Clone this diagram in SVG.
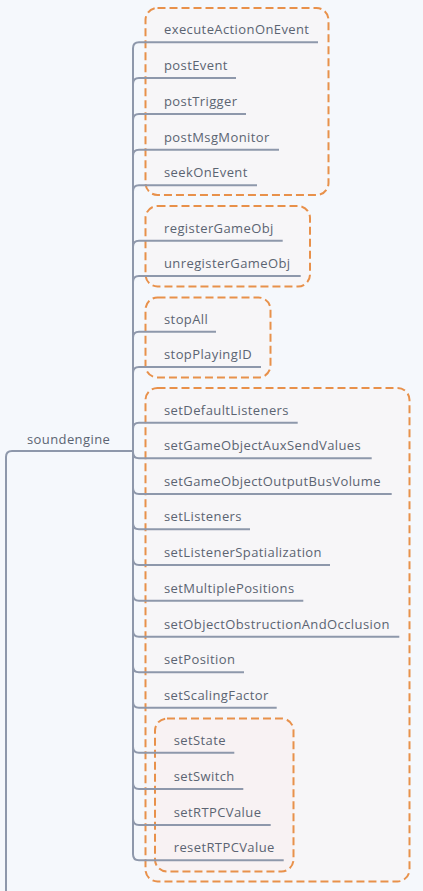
<svg xmlns="http://www.w3.org/2000/svg" width="423" height="891" viewBox="0 0 423 891">
<style>
.bg{fill:#F5F8FC}
.grp{fill:#F7F6F8;stroke:#E8914B;stroke-width:2;stroke-dasharray:8 4}
.grp2{fill:#F8F2F3;stroke:#E8914B;stroke-width:2;stroke-dasharray:8 4}
.c{fill:none;stroke:#8E98AB;stroke-width:2}
.u{stroke:#8E98AB;stroke-width:2}
.t{font-family:"Open Sans","Noto Sans",sans-serif;font-size:13px;letter-spacing:0.4px;fill:#5B6472}
</style>
<rect class="bg" x="0" y="0" width="423" height="891"/>
<g id="groups">
<rect class="grp" x="145.5" y="8" width="183" height="187" rx="12"/>
<rect class="grp" x="145.5" y="206" width="164.5" height="80.5" rx="12"/>
<rect class="grp" x="145.5" y="297.5" width="125" height="80" rx="12"/>
<rect class="grp" x="145.5" y="388" width="264" height="493.5" rx="12"/>
<rect class="grp2" x="155" y="718.5" width="138.5" height="153" rx="12"/>
</g>
<g id="connectors">
<path class="c" d="M6 891 V457 Q6 451 12 451 H120"/>
<path class="u" d="M120 451 H133" stroke-width="3"/>
<path class="c" d="M133 451 V48.3 Q133 42.3 139 42.3 H155"/>
<path class="c" d="M133 451 V84 Q133 78 139 78 H155"/>
<path class="c" d="M133 451 V120 Q133 114 139 114 H155"/>
<path class="c" d="M133 451 V155.7 Q133 149.7 139 149.7 H155"/>
<path class="c" d="M133 451 V191.3 Q133 185.3 139 185.3 H155"/>
<path class="c" d="M133 451 V246.7 Q133 240.7 139 240.7 H155"/>
<path class="c" d="M133 451 V282 Q133 276 139 276 H155"/>
<path class="c" d="M133 451 V337.7 Q133 331.7 139 331.7 H155"/>
<path class="c" d="M133 451 V373 Q133 367 139 367 H155"/>
<path class="c" d="M133 451 V428.7 Q133 422.7 139 422.7 H155"/>
<path class="c" d="M133 451 V452.3 Q133 458.3 139 458.3 H155"/>
<path class="c" d="M133 451 V488 Q133 494 139 494 H155"/>
<path class="c" d="M133 451 V523.3 Q133 529.3 139 529.3 H155"/>
<path class="c" d="M133 451 V559 Q133 565 139 565 H155"/>
<path class="c" d="M133 451 V594.7 Q133 600.7 139 600.7 H155"/>
<path class="c" d="M133 451 V630.7 Q133 636.7 139 636.7 H155"/>
<path class="c" d="M133 451 V666.3 Q133 672.3 139 672.3 H155"/>
<path class="c" d="M133 451 V701.7 Q133 707.7 139 707.7 H155"/>
<path class="c" d="M133 451 V746.7 Q133 752.7 139 752.7 H165"/>
<path class="c" d="M133 451 V783 Q133 789 139 789 H165"/>
<path class="c" d="M133 451 V819 Q133 825 139 825 H165"/>
<path class="c" d="M133 451 V854.3 Q133 860.3 139 860.3 H165"/>
</g>
<g id="soundengine"><text class="t" x="27" y="443.5">soundengine</text></g>
<g id="n1"><text class="t" x="164" y="34.2">executeActionOnEvent</text><line class="u" x1="155" y1="42.3" x2="318" y2="42.3"/></g>
<g id="n2"><text class="t" x="164" y="69.9">postEvent</text><line class="u" x1="155" y1="78" x2="236" y2="78"/></g>
<g id="n3"><text class="t" x="164" y="105.9">postTrigger</text><line class="u" x1="155" y1="114" x2="246" y2="114"/></g>
<g id="n4"><text class="t" x="164" y="141.6">postMsgMonitor</text><line class="u" x1="155" y1="149.7" x2="279" y2="149.7"/></g>
<g id="n5"><text class="t" x="164" y="177.2">seekOnEvent</text><line class="u" x1="155" y1="185.3" x2="257" y2="185.3"/></g>
<g id="n6"><text class="t" x="164" y="232.6">registerGameObj</text><line class="u" x1="155" y1="240.7" x2="282.7" y2="240.7"/></g>
<g id="n7"><text class="t" x="164" y="267.9">unregisterGameObj</text><line class="u" x1="155" y1="276" x2="300.7" y2="276"/></g>
<g id="n8"><text class="t" x="164" y="323.6">stopAll</text><line class="u" x1="155" y1="331.7" x2="216" y2="331.7"/></g>
<g id="n9"><text class="t" x="164" y="358.9">stopPlayingID</text><line class="u" x1="155" y1="367" x2="261" y2="367"/></g>
<g id="n10"><text class="t" x="164" y="414.6">setDefaultListeners</text><line class="u" x1="155" y1="422.7" x2="297.7" y2="422.7"/></g>
<g id="n11"><text class="t" x="164" y="450.2">setGameObjectAuxSendValues</text><line class="u" x1="155" y1="458.3" x2="371.7" y2="458.3"/></g>
<g id="n12"><text class="t" x="164" y="485.9">setGameObjectOutputBusVolume</text><line class="u" x1="155" y1="494" x2="391.7" y2="494"/></g>
<g id="n13"><text class="t" x="164" y="521.2">setListeners</text><line class="u" x1="155" y1="529.3" x2="250" y2="529.3"/></g>
<g id="n14"><text class="t" x="164" y="556.9">setListenerSpatialization</text><line class="u" x1="155" y1="565" x2="330" y2="565"/></g>
<g id="n15"><text class="t" x="164" y="592.6">setMultiplePositions</text><line class="u" x1="155" y1="600.7" x2="303.3" y2="600.7"/></g>
<g id="n16"><text class="t" x="164" y="628.6">setObjectObstructionAndOcclusion</text><line class="u" x1="155" y1="636.7" x2="399.3" y2="636.7"/></g>
<g id="n17"><text class="t" x="164" y="664.2">setPosition</text><line class="u" x1="155" y1="672.3" x2="244" y2="672.3"/></g>
<g id="n18"><text class="t" x="164" y="699.6">setScalingFactor</text><line class="u" x1="155" y1="707.7" x2="276.7" y2="707.7"/></g>
<g id="n19"><text class="t" x="173.7" y="744.6">setState</text><line class="u" x1="165" y1="752.7" x2="234.3" y2="752.7"/></g>
<g id="n20"><text class="t" x="173.7" y="780.9">setSwitch</text><line class="u" x1="165" y1="789" x2="243.3" y2="789"/></g>
<g id="n21"><text class="t" x="173.7" y="816.9">setRTPCValue</text><line class="u" x1="165" y1="825" x2="270.7" y2="825"/></g>
<g id="n22"><text class="t" x="173.7" y="852.2">resetRTPCValue</text><line class="u" x1="165" y1="860.3" x2="283.7" y2="860.3"/></g>
</svg>
